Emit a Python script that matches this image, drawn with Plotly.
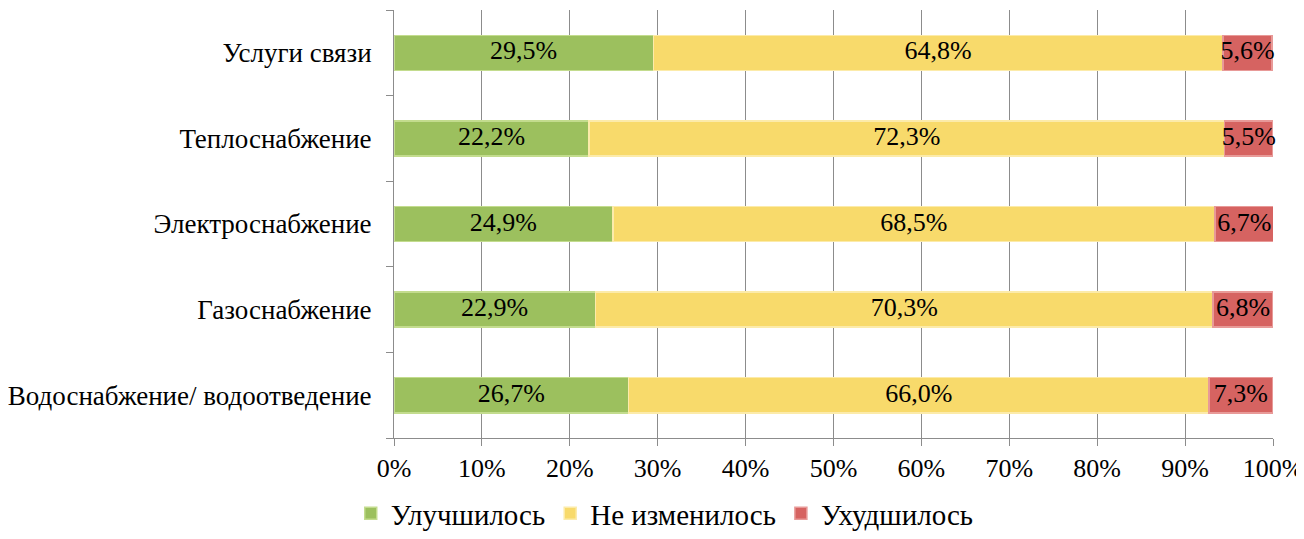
import plotly.graph_objects as go

categories = [
    "Водоснабжение/ водоотведение",
    "Газоснабжение",
    "Электроснабжение",
    "Теплоснабжение",
    "Услуги связи",
]
improved = [26.7, 22.9, 24.9, 22.2, 29.5]
unchanged = [66.0, 70.3, 68.5, 72.3, 64.8]
worse = [7.3, 6.8, 6.7, 5.5, 5.6]
x_ticks = [0, 10, 20, 30, 40, 50, 60, 70, 80, 90, 100]

FONT = "Liberation Serif, Times New Roman, serif"

series = [
    ("Улучшилось", improved, "#9cc05e", "#c3dc8e"),
    ("Не изменилось", unchanged, "#f8da6b", "#fcebaa"),
    ("Ухудшилось", worse, "#d66361", "#e89a98"),
]

fig = go.Figure()
base = [0.0] * len(categories)
for name, vals, color, edge in series:
    fig.add_trace(
        go.Bar(
            y=categories,
            x=vals,
            name=name,
            orientation="h",
            marker=dict(color=color, line=dict(color=edge, width=1.5)),
        )
    )
    # labels centred on each segment
    centers = [b + v / 2 for b, v in zip(base, vals)]
    fig.add_trace(
        go.Scatter(
            y=categories,
            x=centers,
            mode="text",
            text=[f"{v:.1f}%".replace(".", ",") for v in vals],
            textposition="middle center",
            textfont=dict(size=26, color="black", family=FONT),
            showlegend=False,
            hoverinfo="skip",
            cliponaxis=False,
        )
    )
    base = [b + v for b, v in zip(base, vals)]

# page body has an 8px margin, so the figure is a bit smaller than the window
fig.update_layout(
    barmode="stack",
    bargap=0.59,
    width=1296,
    height=531,
    margin=dict(l=386, r=31, t=2, b=101),
    plot_bgcolor="white",
    paper_bgcolor="white",
    font=dict(family=FONT, size=26, color="black"),
    showlegend=True,
    legend=dict(
        orientation="h",
        x=0.308,
        xanchor="center",
        yref="container",
        y=-0.014,
        yanchor="bottom",
        font=dict(size=29, family=FONT),
        traceorder="normal",
        itemwidth=30,
    ),
    xaxis=dict(
        range=[0, 100],
        tickvals=x_ticks,
        ticktext=[f"{t}%" for t in x_ticks],
        showgrid=True,
        gridcolor="#8c8c8c",
        gridwidth=1,
        ticks="outside",
        ticklen=7,
        tickcolor="#8c8c8c",
        showline=True,
        linecolor="#8c8c8c",
        zeroline=False,
        automargin=False,
        ticklabelstandoff=0,
    ),
    yaxis=dict(
        tickson="boundaries",
        ticks="outside",
        ticklen=7,
        tickcolor="#8c8c8c",
        showline=True,
        linecolor="#8c8c8c",
        showgrid=False,
        automargin=False,
        ticklabelstandoff=16,
        tickfont=dict(size=27),
    ),
)

fig.write_html("out.html")
